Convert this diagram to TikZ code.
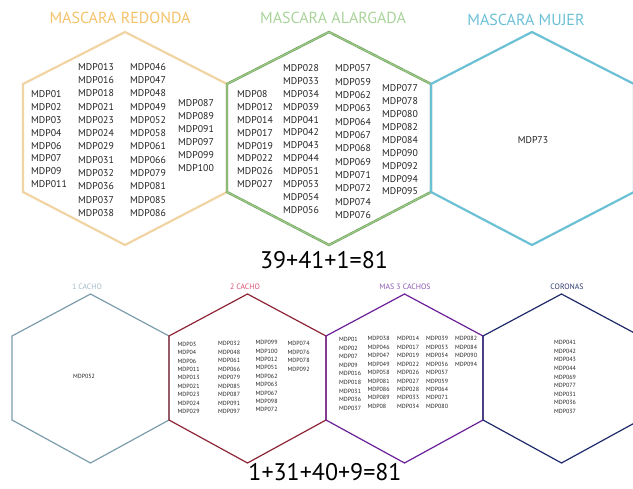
\documentclass[tikz,border=0pt]{standalone}
\usepackage{fontspec}
\setmainfont{PT Sans}
\usepackage{tikz}

\definecolor{redondaT}{HTML}{F4C26B}
\definecolor{redondaL}{HTML}{F1D4A4}
\definecolor{alargadaT}{HTML}{A9D49B}
\definecolor{alargadaL}{HTML}{9CCB88}
\definecolor{alargadaD}{HTML}{6F9E5C}
\definecolor{mujerC}{HTML}{6CC0D6}
\definecolor{cachoAT}{HTML}{A3BAC6}
\definecolor{cachoAL}{HTML}{7C9DAC}
\definecolor{cachoBT}{HTML}{D9506F}
\definecolor{cachoBL}{HTML}{8E2436}
\definecolor{cachoCT}{HTML}{8A55B0}
\definecolor{cachoCL}{HTML}{6B1F99}
\definecolor{coronasT}{HTML}{2C3C6E}
\definecolor{coronasL}{HTML}{1F2A6A}
\definecolor{codetext}{HTML}{222222}

\begin{document}
\begin{tikzpicture}[x=1pt,y=-1pt,
  bighex/.style={line width=2.2pt,line join=miter},
  smallhex/.style={line width=1.2pt,line join=miter},
  bigitem/.style={font=\fontsize{9.8}{11}\selectfont,text=codetext,inner sep=0pt,anchor=west},
  smallitem/.style={font=\fontsize{6}{7}\selectfont,text=codetext,inner sep=0pt,anchor=west},
  toptitle/.style={font=\fontsize{16}{18}\selectfont,inner sep=0pt},
  bottitle/.style={font=\fontsize{7.8}{9}\selectfont,inner sep=0pt},
  total/.style={font=\fontsize{24}{28}\selectfont,inner sep=0pt}]
\useasboundingbox (0,0) rectangle (633,489);
\clip (0,0) rectangle (633,489);

% top row
\draw[bighex,draw=redondaL] (23,84) -- ++(102,-52) -- ++(102,52) -- ++(0,108) -- ++(-102,53) -- ++(-102,-53) -- cycle;
\draw[line width=0.6pt,draw=alargadaD,double=alargadaL,double distance=1.2pt,line join=miter] (227,84) -- ++(102,-52) -- ++(102,52) -- ++(0,108) -- ++(-102,53) -- ++(-102,-53) -- cycle;
\draw[bighex,draw=mujerC] (431,84) -- ++(101,-52) -- ++(102,52) -- ++(0,108) -- ++(-102,53) -- ++(-101,-53) -- cycle;

\node[toptitle,text=redondaT] (tredonda) at (120,18) {MASCARA REDONDA};
\node[toptitle,text=alargadaT] (talargada) at (333,18) {MASCARA ALARGADA};
\node[toptitle,text=mujerC] (tmujer) at (526,20) {MASCARA MUJER};

% redonda
\foreach \t [count=\i] in {01,02,03,04,06,07,09,011}
  \node[bigitem] (redA\i) at (31,{94+12.9*(\i-1)}) {MDP\t};
\foreach \t [count=\i] in {013,016,018,021,023,024,029,031,032,036,037,038}
  \node[bigitem] (redB\i) at (78,{66.7+13.3*(\i-1)}) {MDP\t};
\foreach \t [count=\i] in {046,047,048,049,052,058,061,066,079,081,085,086}
  \node[bigitem] (redC\i) at (130,{66.7+13.3*(\i-1)}) {MDP\t};
\foreach \t [count=\i] in {087,089,091,097,099,100}
  \node[bigitem] (redD\i) at (178,{102.7+13.1*(\i-1)}) {MDP\t};

% alargada
\foreach \t [count=\i] in {08,012,014,017,019,022,026,027}
  \node[bigitem] (alaA\i) at (237,{94+12.9*(\i-1)}) {MDP\t};
\foreach \t [count=\i] in {028,033,034,039,041,042,043,044,051,053,054,056}
  \node[bigitem] (alaB\i) at (283,{68.3+12.85*(\i-1)}) {MDP\t};
\foreach \t [count=\i] in {057,059,062,063,064,067,068,069,071,072,074,076}
  \node[bigitem] (alaC\i) at (335,{68.3+13.35*(\i-1)}) {MDP\t};
\foreach \t [count=\i] in {077,078,080,082,084,090,092,094,095}
  \node[bigitem] (alaD\i) at (382,{88.3+12.9*(\i-1)}) {MDP\t};

% mujer
\node[bigitem,anchor=center] (mujA) at (533,140) {MDP73};

\node[total] (sumtop) at (324,260) {39+41+1=81};

% bottom row
\draw[smallhex,draw=cachoAL] (12,336) -- ++(78.5,-42) -- ++(78.5,42) -- ++(0,84) -- ++(-78.5,43) -- ++(-78.5,-43) -- cycle;
\draw[smallhex,draw=cachoBL] (169,336) -- ++(78.5,-42) -- ++(78.5,42) -- ++(0,84) -- ++(-78.5,43) -- ++(-78.5,-43) -- cycle;
\draw[smallhex,draw=cachoCL] (326,336) -- ++(78.5,-42) -- ++(78.5,42) -- ++(0,84) -- ++(-78.5,43) -- ++(-78.5,-43) -- cycle;
\draw[smallhex,draw=coronasL] (483,336) -- ++(78.5,-42) -- ++(78.5,42) -- ++(0,84) -- ++(-78.5,43) -- ++(-78.5,-43) -- cycle;

\node[bottitle,text=cachoAT] (tcachoA) at (87,287) {1 CACHO};
\node[bottitle,text=cachoBT] (tcachoB) at (245,287) {2 CACHO};
\node[bottitle,text=cachoCT] (tcachoC) at (405,287) {MAS 3 CACHOS};
\node[bottitle,text=coronasT] (tcoronas) at (567,287) {CORONAS};

% 1 cacho
\node[smallitem,anchor=center] (caA1) at (84,376) {MDP052};

% 2 cacho
\foreach \t [count=\i] in {03,04,06,011,013,021,023,024,029}
  \node[smallitem] (cbA\i) at (177.5,{344.3+8.4*(\i-1)}) {MDP\t};
\foreach \t [count=\i] in {032,048,061,066,079,085,087,091,097}
  \node[smallitem] (cbB\i) at (218,{343.7+8.5*(\i-1)}) {MDP\t};
\foreach \t [count=\i] in {099,100,012,051,062,063,067,098,072}
  \node[smallitem] (cbC\i) at (255.5,{342.7+8.4*(\i-1)}) {MDP\t};
\foreach \t [count=\i] in {074,076,078,092}
  \node[smallitem] (cbD\i) at (287.5,{343.7+8.6*(\i-1)}) {MDP\t};

% mas 3 cachos
\foreach \t [count=\i] in {01,02,07,09,016,018,031,036,037}
  \node[smallitem] (ccA\i) at (339,{339.7+8.54*(\i-1)}) {MDP\t};
\foreach \t [count=\i] in {038,046,047,049,058,081,086,089,08}
  \node[smallitem] (ccB\i) at (367.5,{338.7+8.45*(\i-1)}) {MDP\t};
\foreach \t [count=\i] in {014,017,019,022,026,027,028,033,034}
  \node[smallitem] (ccC\i) at (397,{338.7+8.45*(\i-1)}) {MDP\t};
\foreach \t [count=\i] in {039,053,054,056,057,059,064,071,080}
  \node[smallitem] (ccD\i) at (426,{338.7+8.45*(\i-1)}) {MDP\t};
\foreach \t [count=\i] in {082,084,090,094}
  \node[smallitem] (ccE\i) at (455,{338.7+8.45*(\i-1)}) {MDP\t};

% coronas
\foreach \t [count=\i] in {041,042,043,044,069,077,031,036,037}
  \node[smallitem,anchor=center] (coA\i) at (565,{342.7+8.6*(\i-1)}) {MDP\t};

\node[total] (sumbot) at (325,472) {1+31+40+9=81};
\end{tikzpicture}
\end{document}
